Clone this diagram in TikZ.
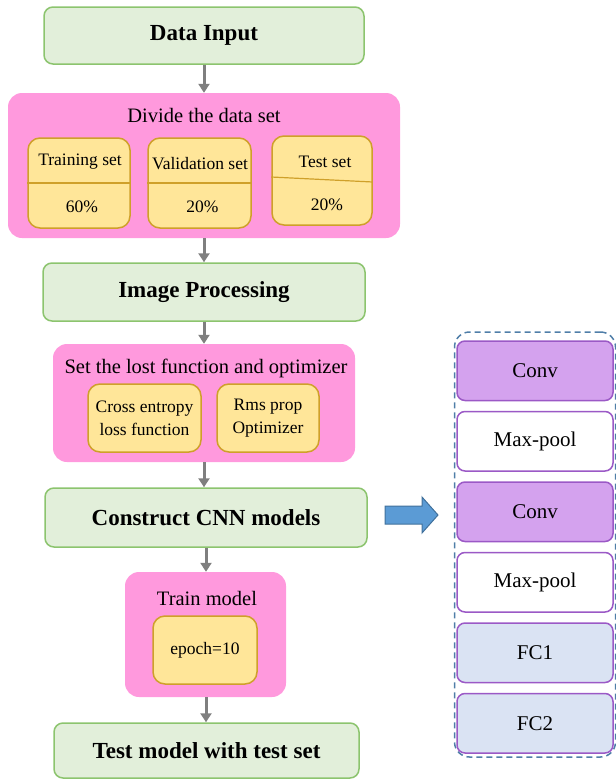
\documentclass[tikz,border=0pt]{standalone}
\usepackage{fontspec}
\setmainfont{Liberation Serif}
\usetikzlibrary{positioning}
\usetikzlibrary{arrows.meta}

\definecolor{stagefill}{HTML}{E2EFDA}
\definecolor{stageline}{HTML}{8CC46E}
\definecolor{groupfill}{HTML}{FF99DD}
\definecolor{itemfill}{HTML}{FFE699}
\definecolor{itemline}{HTML}{CFA02A}
\definecolor{convfill}{HTML}{D4A2EE}
\definecolor{layerline}{HTML}{9B59C6}
\definecolor{fcfill}{HTML}{DAE3F3}
\definecolor{stackline}{HTML}{4F7EA8}
\definecolor{flowgray}{HTML}{7F7F7F}
\definecolor{bigblue}{HTML}{5B9BD5}
\definecolor{bigblueline}{HTML}{41719C}

\tikzset{
    stagebox/.style={draw=stageline, fill=stagefill, line width=1.5pt, rounded corners=9pt,
        font=\fontsize{23}{27}\selectfont\bfseries},
    groupbox/.style={fill=groupfill, rounded corners=14pt},
    grouptitle/.style={font=\fontsize{20.5}{24}\selectfont, inner sep=0pt},
    itembox/.style={draw=itemline, fill=itemfill, line width=1.5pt, rounded corners=12pt,
        font=\fontsize{17.5}{23}\selectfont, align=center},
    itemtext/.style={font=\fontsize{17.5}{21}\selectfont, inner sep=0pt},
    layerbox/.style={draw=layerline, line width=1.5pt, rounded corners=8pt,
        minimum width=156pt, minimum height=59.5pt, font=\fontsize{21}{25}\selectfont},
    stackbox/.style={draw=stackline, dashed, dash pattern=on 6pt off 4pt, line width=1.5pt, rounded corners=15pt},
    flowarrow/.style={draw=flowgray, line width=3pt, -{Triangle[length=9pt,width=11pt]}},
    bigarrow/.style={draw=bigblueline, fill=bigblue, line width=1pt}
}

\begin{document}
\begin{tikzpicture}[x=1pt, y=-1pt]
        \useasboundingbox (0,0) rectangle (616,780);

        \node[stagebox, minimum width=320pt, minimum height=57pt] (datainput) at (204,35.5) {Data Input};

        \node[groupbox, minimum width=392pt, minimum height=145pt] (divide) at (204,165.5) {};
        \node[grouptitle] (dividetitle) at (204,115) {Divide the data set};
        \node[itembox, minimum width=102pt, minimum height=90pt] (trainset) at (79,183) {};
        \node[itembox, minimum width=103pt, minimum height=90pt] (valset) at (199.5,183) {};
        \node[itembox, minimum width=100pt, minimum height=89pt] (testset) at (322,180.5) {};
        \draw[itemline, line width=1.2pt] (trainset.west) -- (trainset.east);
        \draw[itemline, line width=1.2pt] (valset.west) -- (valset.east);
        \draw[itemline, line width=1.2pt] ([yshift=3.5pt]testset.west) -- ([yshift=-1.5pt]testset.east);
        \node[itemtext] (trainname) at (80,162) {Training set};
        \node[itemtext] (trainshare) at (82,207) {60\%};
        \node[itemtext] (valname) at (200,164) {Validation set};
        \node[itemtext] (valshare) at (202.5,207) {20\%};
        \node[itemtext] (testname) at (325,162) {Test set};
        \node[itemtext] (testshare) at (327,205) {20\%};

        \node[stagebox, minimum width=322pt, minimum height=58pt] (imgproc) at (204,292) {Image Processing};

        \node[groupbox, minimum width=302pt, minimum height=118pt] (lossopt) at (204,403) {};
        \node[grouptitle] (lossopttitle) at (206,368) {Set the lost function and optimizer};
        \node[itembox, minimum width=113pt, minimum height=68pt] (crossent) at (144.5,418) {Cross entropy\\loss function};
        \node[itembox, minimum width=102pt, minimum height=68pt] (rmsprop) at (268,418) {Rms prop\\Optimizer};

        \node[stagebox, minimum width=322pt, minimum height=59pt] (buildcnn) at (206,517.5) {Construct CNN models};

        \node[groupbox, minimum width=161pt, minimum height=125pt] (trainmodel) at (205.5,634.5) {};
        \node[grouptitle] (trainmodeltitle) at (207,598) {Train model};
        \node[itembox, minimum width=104pt, minimum height=68pt] (epoch) at (205,650) {epoch=10};

        \node[stagebox, minimum width=305pt, minimum height=55pt] (testmodel) at (206.5,750.5) {Test model with test set};

        \draw[flowarrow] (datainput.south) -- (datainput.south |- divide.north);
        \draw[flowarrow] (datainput.south |- divide.south) -- (datainput.south |- imgproc.north);
        \draw[flowarrow] (imgproc.south) -- (imgproc.south |- lossopt.north);
        \draw[flowarrow] (imgproc.south |- lossopt.south) -- (imgproc.south |- buildcnn.north);
        \draw[flowarrow] (buildcnn.south) -- (buildcnn.south |- trainmodel.north);
        \draw[flowarrow] (buildcnn.south |- trainmodel.south) -- (buildcnn.south |- testmodel.north);

        \node[stackbox, minimum width=161pt, minimum height=425pt] (cnnstack) at (535,544.5) {};
        \node[layerbox, fill=convfill] (conv1) at (535,370.75) {Conv};
        \node[layerbox, fill=white, below=9.5pt of conv1] (pool1) {Max-pool};
        \node[layerbox, fill=convfill, below=9.5pt of pool1] (conv2) {Conv};
        \node[layerbox, fill=white, below=9.5pt of conv2] (pool2) {Max-pool};
        \node[layerbox, fill=fcfill, below=9.5pt of pool2] (fc1) {FC1};
        \node[layerbox, fill=fcfill, below=9.5pt of fc1] (fc2) {FC2};

        \draw[bigarrow] (385,506) -- (422,506) -- (422,497) -- (438,515) -- (422,533) -- (422,524) -- (385,524) -- cycle;

    \end{tikzpicture}
\end{document}
